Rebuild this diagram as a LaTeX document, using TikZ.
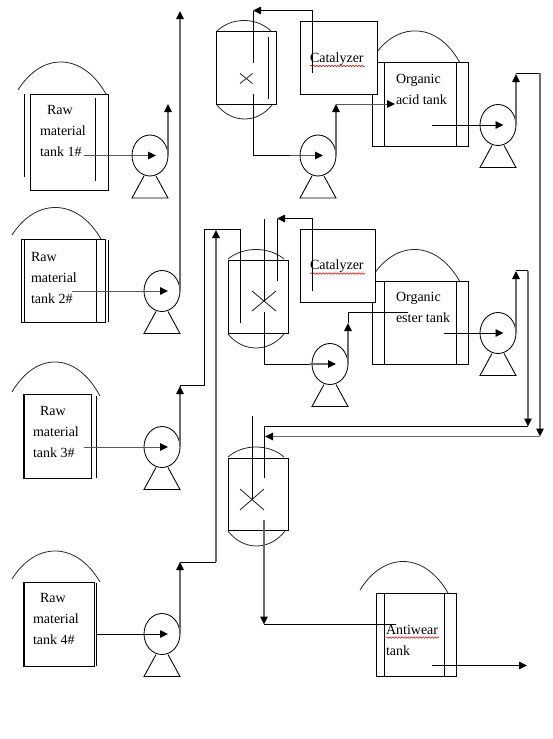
\documentclass[tikz,border=0pt]{standalone}
\usepackage{fontspec}
\setmainfont{Liberation Serif}
\usetikzlibrary{arrows.meta,shapes.geometric,decorations.pathmorphing}
\tikzset{
  thinline/.style={draw=black,line width=0.9pt},
  pipe/.style={draw=black!58,line width=1.35pt},
  feed/.style={draw=black!65,line width=1pt},
  tip/.style={-{Triangle[length=8pt,width=7.5pt,fill=black,color=black]}},
  vessel/.style={rectangle,thinline,inner sep=0pt,outer sep=0pt},
  lbl/.style={anchor=base west,inner sep=0pt,outer sep=0pt,font=\fontsize{14}{16}\selectfont,text=black},
  pumpbody/.style={ellipse,draw=black,line width=0.85pt,minimum width=36pt,minimum height=41pt,inner sep=0pt,outer sep=0pt},
  domeline/.style={draw=black!85,line width=0.8pt},
  spell/.style={draw=red!85!black,line width=0.5pt,decorate,decoration={snake,amplitude=0.8pt,segment length=3pt}}
}
\newcommand{\tankbox}[6][]{%
  \pgfmathsetmacro{\cxx}{(#3+#5)/2}\pgfmathsetmacro{\cyy}{(#4+#6)/2}%
  \pgfmathsetmacro{\wdd}{#5-#3}\pgfmathsetmacro{\htt}{#6-#4}%
  \node[vessel,minimum width=\wdd pt,minimum height=\htt pt,#1] (#2) at (\cxx,\cyy) {};}
\newcommand{\domearc}[5]{%
  \pgfmathsetmacro{\cone}{#1+0.27*(#3-#1)}\pgfmathsetmacro{\ctwo}{#3-0.27*(#3-#1)}%
  \pgfmathsetmacro{\cyy}{(8*#5-#2-#4)/6}%
  \draw[domeline] (#1,#2) .. controls (\cone,\cyy) and (\ctwo,\cyy) .. (#3,#4);}
\newcommand{\pumpat}[3]{%
  \node[pumpbody] (#1) at (#2,#3) {};
  \pgfmathsetmacro{\la}{#2-6}\pgfmathsetmacro{\lb}{#2-18}\pgfmathsetmacro{\ra}{#2+6}\pgfmathsetmacro{\rb}{#2+18}%
  \pgfmathsetmacro{\ta}{#3+20.5}\pgfmathsetmacro{\tb}{#3+42.5}%
  \draw[thinline] (\la,\ta) -- (\lb,\tb) -- (\rb,\tb) -- (\ra,\ta);}
\newcommand{\stirrer}[4]{%
  \draw[draw=black!85,line width=0.85pt] (#1,#2) -- (#3,#4) (#3,#2) -- (#1,#4);}
\begin{document}
\begin{tikzpicture}[x=1pt,y=-1pt]
\useasboundingbox (0,0) rectangle (553,739);
% ---------- Raw material tank 1
\tankbox{t1}{30.5}{94.5}{108.5}{190}
\draw[thinline] (24.5,94) -- (24.5,176.5) (95.5,98) -- (95.5,180.5);
\domearc{18}{90}{106}{94}{62}
\node[lbl] (t1a) at (47,114.5) {Raw};
\node[lbl] (t1b) at (40,135.5) {material};
\node[lbl] (t1c) at (40,156.5) {tank  1\#};
% ---------- Raw material tank 2
\tankbox{t2}{21.5}{239.5}{105.5}{322}
\draw[thinline] (24.5,239.5) -- (24.5,322) (96.5,239.5) -- (96.5,322) (108.5,239.5) -- (108.5,322);
\domearc{12}{235}{101}{239}{207.5}
\node[lbl] (t2a) at (31,261) {Raw};
\node[lbl] (t2b) at (31,282) {material};
\node[lbl] (t2c) at (31,303) {tank 2\#};
% ---------- Raw material tank 3
\tankbox{t3}{23.5}{394.5}{91.5}{478}
\draw[thinline] (24.2,394.5) -- (24.2,478) (96.5,396) -- (96.5,478);
\domearc{12}{392}{100}{396}{362}
\node[lbl] (t3a) at (40,415) {Raw};
\node[lbl] (t3b) at (33,436) {material};
\node[lbl] (t3c) at (33,457) {tank 3\#};
% ---------- Raw material tank 4
\tankbox{t4}{23.5}{582.5}{94.7}{666}
\draw[thinline] (24.2,582.5) -- (24.2,666) (96.7,582.5) -- (96.7,666);
\domearc{12}{579}{100}{582}{551}
\node[lbl] (t4a) at (40,602) {Raw};
\node[lbl] (t4b) at (33,623) {material};
\node[lbl] (t4c) at (33,644) {tank 4\#};
% ---------- Organic tanks
\tankbox{oa}{372.5}{62.5}{468.5}{146}
\draw[thinline] (384.5,62.5) -- (384.5,146) (456.5,62.5) -- (456.5,146);
\domearc{377}{52}{459.5}{62}{31}
\node[lbl] (oaa) at (396,83) {Organic};
\node[lbl] (oab) at (396,104) {acid tank};
\tankbox{oe}{372.5}{281.5}{468.5}{364.5}
\draw[thinline] (384.5,281.5) -- (384.5,364.5) (456.5,281.5) -- (456.5,364.5);
\domearc{372}{277}{459.5}{281}{249.5}
\node[lbl] (oea) at (396,301) {Organic};
\node[lbl] (oeb) at (396,322) {ester tank};
% ---------- Catalyzer boxes
\tankbox[fill=white]{c1}{300.5}{21.5}{377.5}{94.5}
\node[lbl] (c1t) at (310,62) {Catalyzer};
\draw[spell] (310,66) -- (365,66);
\tankbox[fill=white]{c2}{300.5}{229.5}{375.5}{302.5}
\node[lbl] (c2t) at (310,269.5) {Catalyzer};
\draw[spell] (310,273.5) -- (365,273.5);
% ---------- Reactors
\tankbox{r1}{216.5}{31.5}{276.5}{104.5}
\domearc{217}{31}{271}{31}{20.5}
\domearc{217}{105}{272}{105}{119}
\stirrer{240}{73.5}{252.5}{83.5}
\draw[thinline] (268.5,37) -- (268.5,99);
\tankbox{r2}{228.5}{260.5}{288.5}{333.5}
\domearc{228}{259}{284}{259}{249.5}
\domearc{228}{334}{284}{334}{348}
\stirrer{252}{291}{276}{311}
\tankbox{r3}{228.5}{458.5}{288.5}{530.5}
\domearc{228}{457}{284}{457}{447}
\domearc{228}{531}{285}{531}{546}
\stirrer{240}{489}{264}{510}
% ---------- Antiwear tank
\tankbox{aw}{376.5}{593.5}{456.5}{676}
\draw[thinline] (384.5,593.5) -- (384.5,676) (444.5,593.5) -- (444.5,676);
\domearc{360}{590}{448}{593}{561.5}
\node[lbl] (awa) at (386,634) {Antiwear};
\draw[spell] (386,637.5) -- (439,637.5);
\node[lbl] (awb) at (386,655) {tank};
% ---------- Pumps
\pumpat{p1}{150}{155.5}
\pumpat{p2}{162}{291}
\pumpat{p3}{162}{447}
\pumpat{p4}{162}{634}
\pumpat{p5}{318}{155.5}
\pumpat{p6}{498}{125}
\pumpat{p7}{330}{364}
\pumpat{p8}{498}{333}
% ---------- Named connector ends
\coordinate (i1) at (84,155.5);  \coordinate (i1e) at (156,155.5);
\coordinate (i2) at (72,291);    \coordinate (i2e) at (168,291);
\coordinate (i3) at (84,447);    \coordinate (i3e) at (168,447);
\coordinate (i4) at (97,634);    \coordinate (i4e) at (168,634);
\coordinate (o1) at (168,104);
\coordinate (o2) at (180,11);
\coordinate (o3) at (180,386);
\coordinate (n3a) at (204.5,385.5); \coordinate (n3b) at (204.5,229.5); \coordinate (n3c) at (240.5,229.5); \coordinate (n3d) at (240.5,322.5);
\coordinate (o4) at (180,562);
\coordinate (n4a) at (216,562); \coordinate (n4b) at (216,230);
% connectors: raw tanks to pumps
\draw[feed,tip] (i1) -- (i1e);
\draw[feed,tip] (i2) -- (i2e);
\draw[feed,tip] (i3) -- (i3e);
\draw[thinline,tip] (i4) -- (i4e);
\draw[pipe,tip] (p1.east) -- (o1);
\draw[pipe,tip] (p2.east) -- (o2);
\draw[pipe,tip] (p3.east) -- (o3);
\draw[thinline] (o3) -- (180,385.5) -- (n3a) -- (n3b) -- (n3c) -- (n3d);
\draw[pipe,tip] (p4.east) -- (o4);
\draw[thinline] (o4) -- (n4a);
\draw[pipe,tip] (n4a) -- (n4b);
% reactor 1
\coordinate (f1a) at (312.5,72.5); \coordinate (f1b) at (312.5,10.5); \coordinate (f1c) at (253,10.5); \coordinate (f1d) at (253,62.5);
\coordinate (b1a) at (253,94); \coordinate (b1b) at (253,155.5); \coordinate (b1c) at (323,155.5);
\draw[thinline,tip] (f1a) -- (f1b) -- (f1c);
\draw[thinline] (f1c) -- (f1d);
\draw[thinline] (b1a) -- (b1b) -- (290,155.5);
\draw[feed,tip] (290,155.5) -- (b1c);
\coordinate (o5) at (336,104); \coordinate (o5b) at (395,104);
\draw[pipe,tip] (p5.east) -- (o5);
\draw[feed,tip] (o5) -- (o5b);
% organic acid tank to pump 6
\coordinate (i6) at (432,125); \coordinate (i6e) at (503.5,125);
\draw[thinline,tip] (i6) -- (i6e);
\coordinate (o6) at (516,74); \coordinate (n6a) at (516,73); \coordinate (n6b) at (540,73); \coordinate (n6c) at (540,436.5); \coordinate (n6d) at (265,436.5);
\draw[pipe,tip] (p6.east) -- (o6);
\draw[thinline] (n6a) -- (n6b);
\draw[pipe,tip] (n6b) -- (n6c);
\draw[pipe,tip] (n6c) -- (n6d);
% reactor 2
\coordinate (f2a) at (312.5,291); \coordinate (f2b) at (312.5,218.5); \coordinate (f2c) at (277,218.5); \coordinate (f2d) at (277,280.5);
\coordinate (s2a) at (264.5,219); \coordinate (s2b) at (264.5,301);
\coordinate (b2a) at (264.5,312); \coordinate (b2b) at (264.5,364); \coordinate (b2c) at (336,364);
\draw[thinline,tip] (f2a) -- (f2b) -- (f2c);
\draw[thinline] (f2c) -- (f2d);
\draw[thinline] (s2a) -- (s2b);
\draw[thinline] (b2a) -- (b2b) -- (310,364);
\draw[pipe,tip] (310,364) -- (b2c);
\coordinate (o7) at (348,323); \coordinate (n7a) at (348,312.5); \coordinate (n7b) at (408,312.5);
\draw[pipe,tip] (p7.east) -- (o7);
\draw[thinline] (o7) -- (n7a) -- (n7b);
% organic ester tank to pump 8
\coordinate (i8) at (444,333); \coordinate (i8e) at (503.5,333);
\draw[thinline,tip] (i8) -- (i8e);
\coordinate (o8) at (516,271); \coordinate (n8a) at (516,270.5); \coordinate (n8b) at (528,270.5); \coordinate (n8c) at (528,426.5); \coordinate (n8d) at (264.5,426.5); \coordinate (n8e) at (264.5,478);
\draw[pipe,tip] (p8.east) -- (o8);
\draw[thinline] (n8a) -- (n8b);
\draw[pipe,tip] (n8b) -- (n8c);
\draw[thinline] (n8c) -- (n8d) -- (n8e);
% reactor 3
\coordinate (s3a) at (252.5,416); \coordinate (s3b) at (252.5,499);
\coordinate (b3a) at (264,520); \coordinate (b3b) at (264,624.5); \coordinate (b3c) at (395.5,624.5);
\draw[thinline] (s3a) -- (s3b);
\draw[pipe,tip] (b3a) -- (b3b);
\draw[thinline] (b3b) -- (b3c);
% antiwear outlet
\coordinate (oi) at (432,665.5); \coordinate (oe) at (527,665.5);
\draw[thinline,tip] (oi) -- (oe);
\end{tikzpicture}
\end{document}
